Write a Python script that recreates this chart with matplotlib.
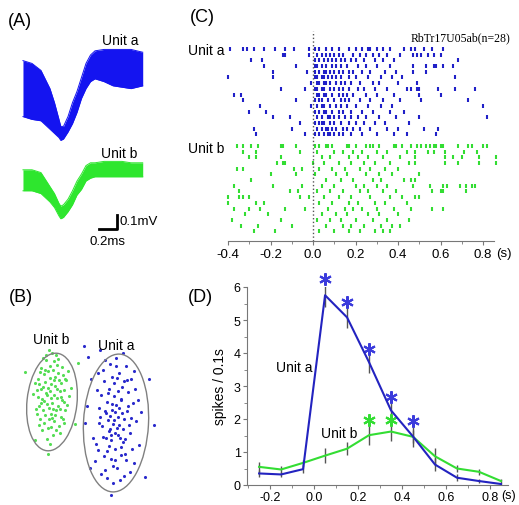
import matplotlib
matplotlib.use("Agg")
import matplotlib.pyplot as plt
from matplotlib.patches import Ellipse
import numpy as np

plt.rcParams['font.family'] = ['Liberation Sans', 'DejaVu Sans']

# ---- (A) spike waveforms: envelope of all traces (ms, mV) ----
wave_t = [0, 0.1, 0.2, 0.3, 0.35, 0.4, 0.42, 0.45, 0.5, 0.55, 0.6, 0.65,
          0.7, 0.75, 0.8, 0.9, 1.0, 1.1, 1.2, 1.33]
unit_a_top = [0.06, 0.04, -0.01, -0.14, -0.24, -0.36, -0.41, -0.41, -0.34, -0.24,
              -0.16, -0.06, 0.04, 0.10, 0.13, 0.14, 0.14, 0.14, 0.14, 0.12]
unit_a_bot = [-0.34, -0.36, -0.37, -0.43, -0.46, -0.49, -0.51, -0.50, -0.45, -0.39,
              -0.31, -0.21, -0.14, -0.09, -0.07, -0.09, -0.12, -0.13, -0.14, -0.12]
unit_b_top = [0.01, 0.01, -0.01, -0.11, -0.16, -0.23, -0.25, -0.24, -0.20, -0.14,
              -0.07, -0.02, 0.04, 0.06, 0.06, 0.07, 0.07, 0.07, 0.06, 0.06]
unit_b_bot = [-0.14, -0.14, -0.16, -0.22, -0.26, -0.32, -0.34, -0.33, -0.29, -0.24,
              -0.17, -0.13, -0.07, -0.05, -0.04, -0.04, -0.04, -0.04, -0.04, -0.04]

# ---- (B) cluster points (feature space, a.u.) ----
clus_b_x = [3.7, 3.2, 4.1, 2.8, 4.5, 3.5, 2.4, 4.9, 3.9, 3.0, 4.3, 2.6, 3.6, 5.1, 2.2, 3.3, 4.6, 3.9, 2.9, 4.2,
            3.4, 2.5, 5.4, 3.8, 4.7, 3.1, 4.0, 2.3, 3.6, 4.4, 2.7, 5.0, 3.2, 4.1, 2.0, 3.5, 4.8, 2.9, 3.8, 4.3,
            3.0, 5.6, 2.4, 3.7, 4.5, 2.8, 3.4, 4.9, 2.1, 3.9, 4.6, 3.3, 2.6, 5.2, 3.6, 4.2, 2.5, 3.1, 4.0, 4.7,
            3.5, 2.2, 3.8, 5.3, 2.9, 4.4, 3.2, 4.1, 2.6, 3.9, 4.8, 3.4, 2.3, 3.7, 4.6, 3.0, 4.3, 2.8, 5.0, 3.6,
            1.8, 4.0, 3.3, 4.9, 2.7, 3.5, 4.2, 3.1, 4.5, 2.4, 3.3, 1.0, 6.0, 2.0, 6.3]
clus_b_y = [9.6, 10.4, 8.9, 11.2, 10.8, 12.1, 9.3, 9.7, 7.8, 8.4, 12.6, 13.1, 11.5, 11.9, 10.9, 7.1, 8.2, 13.8, 12.5, 10.1,
            9.1, 8.0, 10.3, 6.4, 13.2, 13.9, 11.3, 12.0, 8.5, 7.3, 10.0, 8.9, 6.0, 14.4, 11.6, 10.8, 12.4, 9.8, 12.9, 9.3,
            11.7, 11.1, 7.4, 14.6, 6.6, 14.1, 8.0, 10.9, 9.0, 10.4, 11.6, 12.8, 11.0, 9.4, 7.2, 13.4, 12.7, 10.6, 8.4, 9.9,
            13.3, 8.5, 9.0, 12.8, 7.6, 11.9, 9.5, 6.9, 9.6, 11.9, 8.0, 14.9, 10.2, 8.1, 10.2, 12.9, 14.0, 8.9, 12.0, 10.1,
            10.5, 12.2, 11.1, 7.6, 6.9, 5.5, 11.0, 14.4, 9.0, 11.5, 4.5, 12.7, 7.5, 5.9, 13.6]
clus_a_x = [9.8, 10.3, 9.4, 10.8, 9.1, 10.1, 9.6, 11.2, 8.7, 10.5, 9.9, 11.5, 8.4, 10.7, 9.2, 10.0, 11.8, 8.9, 10.4, 9.5,
            11.0, 8.1, 12.1, 9.7, 10.2, 9.3, 10.6, 11.3, 8.6, 9.0, 10.9, 9.8, 11.6, 8.3, 10.1, 9.4, 12.4, 11.9, 8.0, 10.6,
            9.6, 10.9, 9.2, 10.3, 11.4, 8.8, 10.0, 9.7, 11.1, 8.5, 12.0, 9.9, 10.4, 9.5, 10.0, 10.7, 9.3, 11.0, 8.9, 10.2,
            11.5, 9.0, 10.8, 8.2, 12.6, 9.6, 10.5, 11.7, 8.6, 10.2, 9.1, 11.3, 10.0, 9.4, 10.6, 8.4, 11.9, 9.8, 10.9, 9.7,
            10.3, 12.3, 8.8, 10.1, 9.2, 11.1, 10.6, 9.9, 11.6, 8.3, 10.4, 9.5, 10.8, 9.0, 11.2,
            7.3, 7.6, 7.2, 7.8, 7.5, 13.9, 13.4, 8.5, 6.9, 9.6, 13.0, 7.0]
clus_a_y = [7.5, 8.2, 6.8, 7.0, 8.6, 9.4, 5.9, 8.8, 7.3, 6.1, 10.3, 6.6, 9.1, 11.2, 4.8, 3.9, 9.6, 11.8, 12.6, 13.5,
            4.5, 5.5, 7.8, 8.9, 7.1, 7.9, 9.9, 10.7, 10.4, 2.9, 2.3, 1.6, 12.0, 12.6, 14.1, 11.0, 5.4, 3.6, 3.8, 5.2,
            6.4, 8.0, 9.7, 10.8, 7.4, 6.2, 5.0, 12.2, 13.3, 8.2, 11.0, 7.9, 7.4, 8.3, 6.6, 8.6, 10.6, 6.0, 4.3, 3.1,
            2.7, 13.9, 14.6, 10.9, 8.7, 4.0, 1.9, 5.0, 2.5, 12.1, 6.1, 9.3, 8.7, 5.3, 10.0, 7.6, 12.8, 3.3, 11.8, 9.5,
            6.4, 9.9, 12.9, 13.3, 2.1, 3.9, 4.4, 11.6, 8.1, 4.9, 9.1, 7.0, 5.7, 8.8, 11.9,
            14.2, 12.0, 9.3, 6.1, 3.1, 7.4, 12.0, 14.9, 15.3, 0.4, 2.2, 7.6]

# ---- (C) raster: spike times (s) per trial ----
raster_a = [
    [-0.39, -0.33, -0.31, -0.28, -0.23, -0.18, -0.13, -0.09, -0.02, 0.01, 0.03, 0.06, 0.09, 0.12, 0.17, 0.2, 0.23,
     0.26, 0.27, 0.3, 0.33, 0.36, 0.43, 0.46, 0.48, 0.52, 0.56, 0.61],
    [-0.14, -0.13, -0.02, 0.02, 0.04, 0.06, 0.08, 0.1, 0.12, 0.14, 0.19, 0.22, 0.25, 0.28, 0.31, 0.35, 0.41, 0.47,
     0.49, 0.51, 0.54, 0.57, 0.6],
    [-0.29, -0.24, 0.01, 0.03, 0.05, 0.07, 0.09, 0.11, 0.13, 0.15, 0.18, 0.2, 0.24, 0.29, 0.33, 0.38, 0.68],
    [-0.23, -0.08, 0.01, 0.02, 0.04, 0.06, 0.09, 0.11, 0.13, 0.16, 0.21, 0.25, 0.3, 0.36, 0.47, 0.53, 0.57, 0.58,
     0.61, 0.66],
    [-0.19, -0.03, 0.01, 0.03, 0.05, 0.06, 0.08, 0.1, 0.12, 0.14, 0.17, 0.19, 0.23, 0.27, 0.34, 0.39, 0.47, 0.53],
    [-0.4, -0.19, 0.01, 0.02, 0.04, 0.05, 0.07, 0.09, 0.11, 0.13, 0.17, 0.2, 0.26, 0.32, 0.37, 0.42, 0.67],
    [-0.01, 0.02, 0.03, 0.05, 0.06, 0.08, 0.11, 0.13, 0.15, 0.18, 0.22, 0.28, 0.31, 0.4, 0.49],
    [-0.15, -0.04, 0.01, 0.02, 0.04, 0.05, 0.08, 0.1, 0.12, 0.14, 0.17, 0.21, 0.24, 0.29, 0.35, 0.44, 0.46, 0.49,
     0.5, 0.59, 0.67, 0.76],
    [-0.37, -0.34, 0.02, 0.03, 0.05, 0.06, 0.09, 0.12, 0.14, 0.16, 0.19, 0.25, 0.3, 0.38, 0.5, 0.6],
    [-0.33, -0.08, 0.01, 0.03, 0.04, 0.07, 0.1, 0.13, 0.15, 0.17, 0.22, 0.27, 0.33, 0.41, 0.51, 0.73],
    [-0.25, -0.01, 0.02, 0.04, 0.05, 0.08, 0.11, 0.13, 0.16, 0.2, 0.26, 0.32, 0.37, 0.8],
    [-0.3, -0.22, 0.01, 0.03, 0.05, 0.06, 0.09, 0.12, 0.14, 0.18, 0.23, 0.28, 0.36, 0.43],
    [-0.19, -0.11, 0.02, 0.04, 0.07, 0.08, 0.1, 0.12, 0.15, 0.18, 0.21, 0.25, 0.31, 0.39, 0.5, 0.82],
    [-0.06, 0.01, 0.03, 0.04, 0.05, 0.08, 0.1, 0.13, 0.17, 0.2, 0.24, 0.29, 0.34, 0.45],
    [-0.28, -0.1, 0.02, 0.04, 0.06, 0.07, 0.09, 0.11, 0.14, 0.16, 0.19, 0.22, 0.27, 0.35, 0.4, 0.52, 0.59],
    [-0.27, -0.04, 0.01, 0.03, 0.05, 0.07, 0.08, 0.1, 0.12, 0.14, 0.18, 0.23, 0.3, 0.38, 0.44, 0.58],
]
raster_b = [
    [-0.36, -0.33, -0.29, -0.26, -0.15, -0.14, -0.08, 0.01, 0.03, 0.06, 0.07, 0.09, 0.16, 0.17, 0.2, 0.25, 0.27, 0.28,
     0.31, 0.38, 0.39, 0.42, 0.46, 0.49, 0.51, 0.53, 0.55, 0.57, 0.58, 0.6, 0.61, 0.68, 0.73, 0.75, 0.8, 0.82],
    [-0.33, -0.27, -0.06, 0.02, 0.1, 0.14, 0.19, 0.23, 0.3, 0.35, 0.44, 0.48, 0.54, 0.57, 0.62, 0.71, 0.77],
    [-0.3, -0.27, -0.15, 0.04, 0.08, 0.17, 0.21, 0.26, 0.33, 0.41, 0.48, 0.62, 0.66, 0.7, 0.78, 0.86],
    [-0.17, -0.14, -0.13, -0.0, 0.05, 0.12, 0.18, 0.24, 0.29, 0.36, 0.45, 0.48, 0.62, 0.68, 0.78, 0.86],
    [-0.36, -0.33, -0.09, -0.05, 0.03, 0.09, 0.15, 0.22, 0.27, 0.34, 0.4],
    [-0.2, -0.08, 0.01, 0.11, 0.16, 0.25, 0.31, 0.37, 0.5],
    [-0.29, 0.06, 0.13, 0.19, 0.28, 0.32, 0.43, 0.46, 0.48],
    [-0.37, -0.19, -0.05, 0.04, 0.1, 0.2, 0.24, 0.3, 0.35, 0.47, 0.55, 0.61, 0.63, 0.69, 0.72, 0.75, 0.76],
    [-0.35, -0.11, -0.07, 0.02, 0.08, 0.14, 0.22, 0.26, 0.33, 0.39, 0.56, 0.6, 0.61, 0.72],
    [-0.4, -0.35, -0.33, -0.3, -0.06, -0.02, 0.05, 0.12, 0.18, 0.27, 0.36, 0.42, 0.48, 0.5],
    [-0.4, -0.27, -0.23, 0.03, 0.09, 0.17, 0.21, 0.29, 0.34, 0.44],
    [-0.37, -0.3, -0.25, -0.13, -0.04, 0.07, 0.15, 0.19, 0.23, 0.3, 0.38, 0.46, 0.56, 0.61],
    [-0.32, -0.21, 0.04, 0.11, 0.16, 0.26, 0.31, 0.4],
    [-0.38, -0.15, 0.02, 0.08, 0.13, 0.2, 0.28, 0.35, 0.45],
    [-0.34, -0.26, -0.1, 0.06, 0.14, 0.18, 0.24, 0.32, 0.37, 0.41],
    [-0.28, -0.18, 0.03, 0.1, 0.17, 0.22, 0.29, 0.33, 0.36],
]

# ---- (D) PSTH, 0.1 s bins ----
bin_t = [-0.25, -0.15, -0.05, 0.05, 0.15, 0.25, 0.35, 0.45, 0.55, 0.65, 0.75, 0.85]
psth_a = [0.35, 0.32, 0.48, 5.75, 5.08, 3.72, 2.26, 1.47, 0.62, 0.22, 0.12, 0.03]
psth_b = [0.55, 0.47, 0.67, 0.89, 1.1, 1.51, 1.62, 1.46, 0.87, 0.5, 0.4, 0.12]
err_a = [0.1, 0.08, 0.12, 0.35, 0.33, 0.32, 0.3, 0.32, 0.2, 0.1, 0.06, 0.03]
err_b = [0.15, 0.12, 0.1, 0.22, 0.2, 0.3, 0.28, 0.2, 0.25, 0.12, 0.1, 0.05]
sig_a_t = [0.05, 0.15, 0.25, 0.35, 0.45]
sig_a_y = [6.25, 5.56, 4.12, 2.68, 1.95]
sig_b_t = [0.25, 0.35]
sig_b_y = [1.96, 1.98]

BLUE = '#1414f0'
GREEN = '#2ee62e'
W, H = 519, 506
fig = plt.figure(figsize=(W / 100, H / 100), dpi=100)


def rect(x0, y0, x1, y1):
    return [x0 / W, 1 - y1 / H, (x1 - x0) / W, (y1 - y0) / H]


# (A)
axA = fig.add_axes(rect(20, 30, 150, 250))
axA.set_xlim(-0.033, 1.411)
axA.set_ylim(-1.286, 0.286)
axA.axis('off')
b_off = -0.73
axA.fill_between(wave_t, unit_a_top, unit_a_bot, color=BLUE, lw=0)
axA.plot(wave_t, unit_a_top, color=BLUE, lw=0.7)
axA.plot(wave_t, unit_a_bot, color=BLUE, lw=0.7)
axA.fill_between(wave_t, np.array(unit_b_top) + b_off, np.array(unit_b_bot) + b_off, color=GREEN, lw=0)
axA.plot(wave_t, np.array(unit_b_top) + b_off, color=GREEN, lw=0.7)
axA.plot(wave_t, np.array(unit_b_bot) + b_off, color=GREEN, lw=0.7)
axA.text(1.08, 0.21, 'Unit a', ha='center', va='center', fontsize=10)
axA.text(1.07, -0.60, 'Unit b', ha='center', va='center', fontsize=10)
sb_t, sb_v = 0.84, -1.143
axA.plot([sb_t, sb_t + 0.2, sb_t + 0.2], [sb_v, sb_v, sb_v + 0.1], color='black', lw=2)
axA.text(sb_t + 0.235, sb_v + 0.055, '0.1mV', ha='left', va='center', fontsize=9.5)
axA.text(sb_t + 0.1, sb_v - 0.085, '0.2ms', ha='center', va='center', fontsize=9.5)

# (B)
axB = fig.add_axes(rect(15, 320, 165, 500))
axB.set_xlim(0, 15)
axB.set_ylim(0, 18)
axB.axis('off')
axB.scatter(clus_b_x, clus_b_y, s=5, color='#55dd55', lw=0)
axB.scatter(clus_a_x, clus_a_y, s=5, color='#2a2acc', lw=0)
axB.add_patch(Ellipse((3.7, 9.7), 5.0, 9.8, angle=-6, fill=False, ec='#808080', lw=1))
axB.add_patch(Ellipse((10.1, 7.6), 6.5, 13.8, angle=-3, fill=False, ec='#808080', lw=1))
axB.text(3.6, 16.0, 'Unit b', ha='center', va='center', fontsize=10)
axB.text(10.1, 15.4, 'Unit a', ha='center', va='center', fontsize=10)

# (C)
axC = fig.add_axes(rect(222, 32, 500, 242))
axC.set_xlim((222 - 313) / 212.5, (500 - 313) / 212.5)
axC.set_ylim(33.7, -3.16)
axC.eventplot(raster_a, lineoffsets=list(range(16)), linelengths=0.7, linewidths=1.5, colors='#2020c8')
axC.eventplot(raster_b, lineoffsets=list(range(17, 33)), linelengths=0.7, linewidths=1.5, colors='#33dd33')
axC.axvline(0, color='#555555', ls=':', lw=1)
for s in ['top', 'right', 'left']:
    axC.spines[s].set_visible(False)
axC.spines['bottom'].set_bounds(-0.4, 0.85)
axC.spines['bottom'].set_color('#777777')
axC.set_yticks([])
axC.set_xticks([-0.4, -0.2, 0.0, 0.2, 0.4, 0.6, 0.8])
axC.set_xticklabels(['-0.4', '-0.2', '0.0', '0.2', '0.4', '0.6', '0.8'])
axC.set_xticks(np.arange(-0.4, 0.85, 0.1), minor=True)
axC.tick_params(axis='x', which='major', length=3, color='#777777', labelsize=9.5, pad=2)
axC.tick_params(axis='x', which='minor', length=2, color='#777777')
axC.text(0.86, -0.058, '(s)', transform=axC.get_xaxis_transform(), ha='left', va='center', fontsize=9.5)
axC.text(0.927, -2.1, 'RbTr17U05ab(n=28)', ha='right', va='center', fontsize=8.5,
         family=['Liberation Serif', 'DejaVu Serif'])
axC.text(-0.415, 0.2, 'Unit a', ha='right', va='center', fontsize=10)
axC.text(-0.415, 17.3, 'Unit b', ha='right', va='center', fontsize=10)

# (D)
axD = fig.add_axes(rect(247, 288, 508, 486))
axD.set_xlim(-0.305, 0.882)
axD.set_ylim(0, 6)
axD.errorbar(bin_t, psth_a, yerr=err_a, fmt='none', ecolor='#555555', elinewidth=1, capsize=0, zorder=1)
axD.errorbar(bin_t, psth_b, yerr=err_b, fmt='none', ecolor='#555555', elinewidth=1, capsize=0, zorder=1)
axD.plot(bin_t, psth_b, color='#33dd33', lw=1.5, clip_on=False, zorder=2)
axD.plot(bin_t, psth_a, color='#2323c0', lw=1.5, clip_on=False, zorder=3)
axD.plot(sig_a_t, sig_a_y, ls='none', marker=(6, 2, 0), ms=9, mew=1.5, color='#3b3bdc', clip_on=False)
axD.plot(sig_b_t, sig_b_y, ls='none', marker=(6, 2, 0), ms=9, mew=1.5, color='#33dd33', clip_on=False)
for s in ['top', 'right']:
    axD.spines[s].set_visible(False)
axD.spines['left'].set_color('#777777')
axD.spines['bottom'].set_color('#777777')
axD.set_yticks(range(7))
axD.set_yticks(np.arange(0.5, 6, 1.0), minor=True)
axD.set_xticks([-0.2, 0.0, 0.2, 0.4, 0.6, 0.8])
axD.set_xticklabels(['-0.2', '0.0', '0.2', '0.4', '0.6', '0.8'])
axD.set_xticks(np.arange(-0.3, 0.85, 0.1), minor=True)
axD.tick_params(which='major', length=3, color='#777777', labelsize=9, pad=1.5)
axD.tick_params(which='minor', length=2, color='#777777')
axD.set_ylabel('spikes / 0.1s', fontsize=10)
axD.yaxis.set_label_coords(-0.075, 0.5)
axD.text(0.853, -0.052, '(s)', transform=axD.get_xaxis_transform(), ha='left', va='center', fontsize=9)
axD.text(-0.005, 3.58, 'Unit a', ha='right', va='center', fontsize=10)
axD.text(0.114, 1.58, 'Unit b', ha='center', va='center', fontsize=10)

# panel letters
for lab, px, py in [('(A)', 20, 22), ('(C)', 202, 18), ('(B)', 21, 298), ('(D)', 200, 298)]:
    fig.text(px / W, 1 - py / H, lab, ha='center', va='center', fontsize=13)

fig.savefig('out.png', dpi=100)
